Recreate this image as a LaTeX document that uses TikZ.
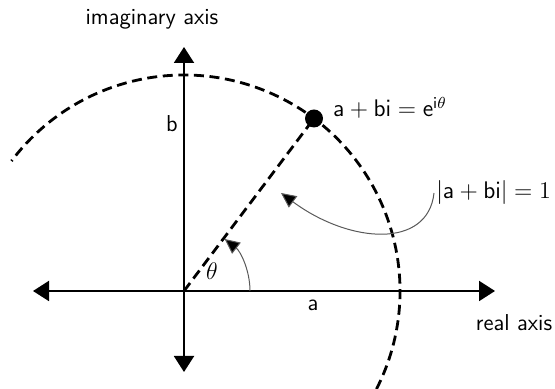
\documentclass[tikz,border=0pt]{standalone}
\usetikzlibrary{arrows.meta,calc}
\begin{document}
\begin{tikzpicture}[x=0.5pt,y=0.5pt,
  axis/.style={line width=1pt,-{Triangle[length=8pt,width=10pt]}},
  dashcirc/.style={line width=1.4pt,dash pattern=on 5pt off 2.8pt},
  lbl/.style={font=\fontsize{11.5}{14}\selectfont\sffamily,inner sep=1pt},
  thinarrow/.style={line width=0.5pt,draw=black!65,-{Triangle[length=7.5pt,width=7pt,fill=black]}}]
\useasboundingbox (0,0) rectangle (555,389);
\coordinate (O) at (184,98);
\coordinate (Xl) at (33,98);
\coordinate (Xr) at (495,98);
\coordinate (Yb) at (184,17);
\coordinate (Yt) at (184,342);
% axes
\draw[axis] (O) -- (Xr);
\draw[axis] (O) -- (Xl);
\draw[axis] (O) -- (Yt);
\draw[axis] (O) -- (Yb);
% unit circle arc
\draw[dashcirc] ($(O)+(-27:108pt)$) arc[start angle=-27,end angle=143,radius=108pt];
% point
\coordinate (Pc) at ($(O)+(53:108pt)$);
\draw[dashcirc] (O) -- (Pc);
\node[circle,fill=black,inner sep=0pt,minimum size=9pt] (P) at (Pc) {};
% angle
\draw[thinarrow] ($(O)+(0:33pt)$) arc[start angle=0,end angle=52,radius=33pt];
% labels
\node[lbl] (imag) at (152,370) {imaginary axis};
\node[lbl] (real) at (514,66) {real axis};
\node[lbl] (b) at (172,265) {b};
\node[lbl] (a) at (313,84) {a};
\node[lbl] (th) at (212,118) {$\theta$};
\node[lbl,anchor=west] (eq) at (331,281) {$\mathsf{a}+\mathsf{bi}=\mathsf{e}^{\mathsf{i}\theta}$};
\node[lbl,anchor=west] (mod) at (434,196) {$|\mathsf{a}+\mathsf{bi}|=1$};
\coordinate (tipR) at (281,196);
\draw[thinarrow] (mod.west) .. controls (428,140) and (350,145) .. (tipR);
\end{tikzpicture}
\end{document}
